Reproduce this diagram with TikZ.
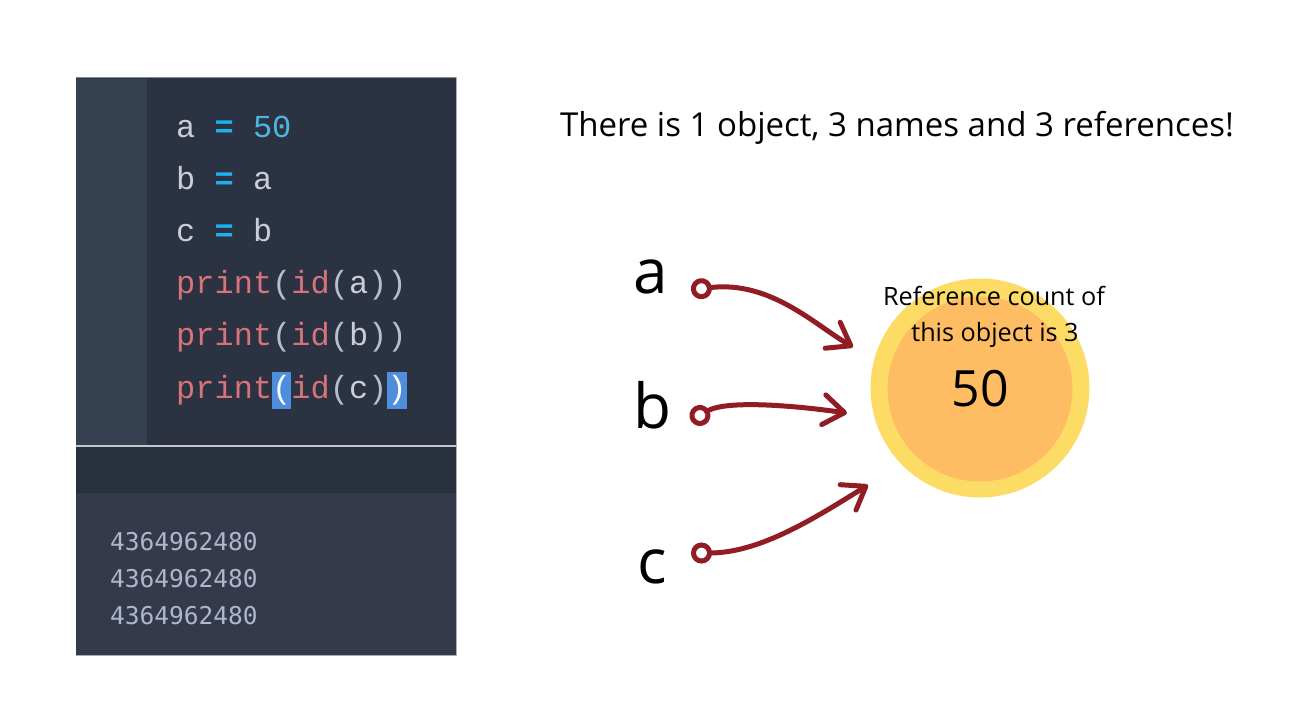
\documentclass[tikz,border=0pt]{standalone}
\usepackage{fontspec}
\setmainfont{Open Sans}
\newfontfamily\codefont{Liberation Mono}
\newfontfamily\outfont{DejaVu Sans Mono}
\usepackage{tikz}
\usetikzlibrary{arrows.meta,calc,positioning}
\definecolor{gutterbg}{HTML}{354050}
\definecolor{codebg}{HTML}{2B3241}
\definecolor{bandbg}{HTML}{29303D}
\definecolor{outbg}{HTML}{343A4A}
\definecolor{frame}{HTML}{A9AEB6}
\definecolor{ident}{HTML}{C9CED8}
\definecolor{eqblue}{HTML}{1AB2F0}
\definecolor{numblue}{HTML}{4CB6E0}
\definecolor{fnred}{HTML}{D7737B}
\definecolor{paren}{HTML}{B9BFCA}
\definecolor{hlblue}{HTML}{4F8EDD}
\definecolor{outtxt}{HTML}{AEB6D0}
\definecolor{refred}{HTML}{921C24}
\definecolor{objyellow}{HTML}{FDDC66}
\definecolor{objorange}{HTML}{FEBD63}
\tikzstyle{codeline}=[anchor=base west,inner sep=0pt,font=\codefont\fontsize{32}{32}\selectfont]
\tikzstyle{outrow}=[anchor=base west,inner sep=0pt,text=outtxt,font=\outfont\fontsize{24.5}{24.5}\selectfont]
\tikzstyle{varname}=[anchor=base west,inner sep=0pt,font=\fontsize{62}{62}\selectfont]
\tikzstyle{cntline}=[anchor=base,inner sep=0pt,font=\fontsize{25.2}{25.2}\selectfont]
\tikzstyle{refarrow}=[draw=refred,line width=5pt,line cap=round,
  {Circle[open,length=21pt,width=21pt]}-{Straight Barb[round,length=21pt,width=30pt]}]
\newcommand{\eq}{\textcolor{eqblue}{\textbf{=}}}
\newcommand{\fn}[1]{\textcolor{fnred}{#1}}
\newcommand{\pr}[1]{\textcolor{paren}{#1}}

\begin{document}
\begin{tikzpicture}[x=1pt,y=-1pt]
        \useasboundingbox (0,0) rectangle (1300,724);
        % editor panel
        \fill[codebg] (76,77) rectangle (457,446);
        \fill[gutterbg] (76,79) rectangle (147,446);
        \fill[bandbg] (76,446) rectangle (457,493);
        \fill[outbg] (76,493) rectangle (457,655);
        \draw[frame!80!black,line width=1.5pt] (76,77.5) -- (457,77.5);
        \draw[frame!70!white,line width=2pt] (76,445.5) -- (457,445.5);
        \draw[frame,line width=1pt] (456.5,77) -- (456.5,655) -- (76,655);
        \fill[hlblue] (272,372) rectangle (291,409);
        \fill[hlblue] (387,372) rectangle (407,409);
        \node[codeline] (l1) at (176,137) {\textcolor{ident}{a} \eq{} \textcolor{numblue}{50}};
        \node[codeline] (l2) at (176,189) {\textcolor{ident}{b} \eq{} \textcolor{ident}{a}};
        \node[codeline] (l3) at (176,241) {\textcolor{ident}{c} \eq{} \textcolor{ident}{b}};
        \node[codeline] (l4) at (176,293) {\fn{print}\pr{(}\fn{id}\pr{(}\textcolor{ident}{a}\pr{))}};
        \node[codeline] (l5) at (176,345) {\fn{print}\pr{(}\fn{id}\pr{(}\textcolor{ident}{b}\pr{))}};
        \node[codeline] (l6) at (176,398) {\fn{print}\textcolor{white}{(}\fn{id}\pr{(}\textcolor{ident}{c}\pr{)}\textcolor{white}{)}};
        \foreach \y [count=\i] in {550,587,624}
            \node[outrow] (o\i) at (110,\y) {4364962480};
        % title
        \node[anchor=base,inner sep=0pt,font=\fontsize{33}{33}\selectfont] (title) at (897,136)
            {There is 1 object, 3 names and 3 references!};
        % the object
        \node[circle,fill=objyellow,minimum size=219pt,inner sep=0pt] (obj) at (980,388) {};
        \fill[objorange] (980,389) circle (92.5);
        \node[inner sep=0pt,font=\fontsize{50}{50}\selectfont] (val) at (980,389) {50};
        \node[cntline] (cnt1) at (994,305) {Reference count of};
        \node[cntline] (cnt2) at (995,341) {this object is 3};
        % names
        \node[varname] (a) at (633,293) {a};
        \node[varname] (b) at (633,428) {b};
        \node[varname] (c) at (637,583) {c};
        \coordinate (ta) at (691,290);
        \coordinate (tb) at (691,421);
        \coordinate (tc) at (691,553);
        \draw[refarrow] (ta) .. controls (770,280) and (815,325) .. (853,347);
        \draw[refarrow] (tb) .. controls (725,400) and (790,405) .. (847,413);
        \draw[refarrow] (tc) .. controls (760,553) and (815,518) .. (868,485);
\end{tikzpicture}
\end{document}
